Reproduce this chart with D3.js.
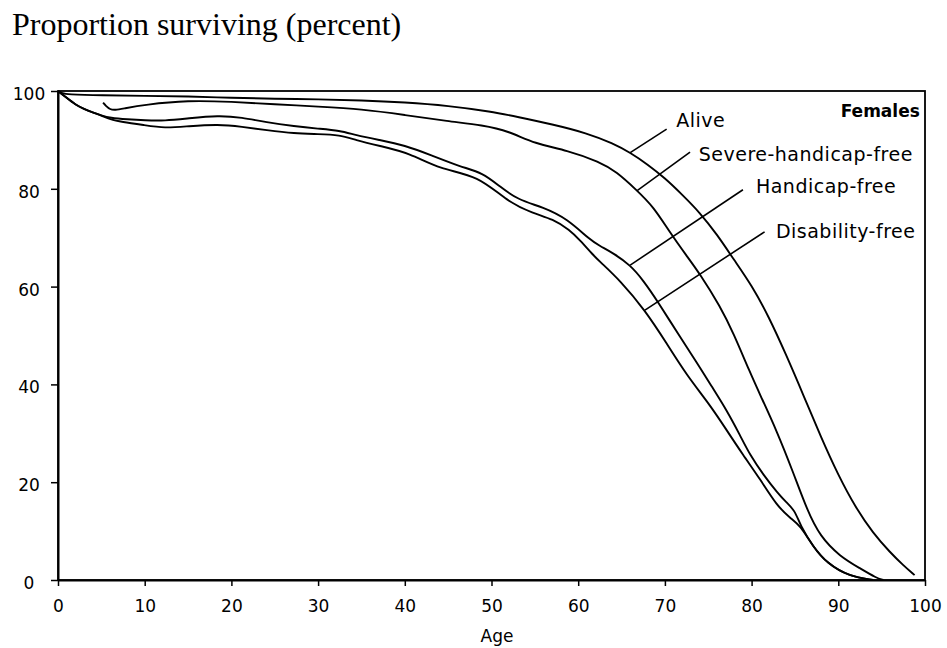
<!DOCTYPE html>
<html>
<head>
<meta charset="utf-8">
<script src="https://cdn.jsdelivr.net/npm/d3@7"></script>
<style>
  html, body { margin: 0; padding: 0; background: #fff; }
  svg { display: block; }
</style>
</head>
<body>
<svg id="chart" width="947" height="648"></svg>
<script>
// ---------- DATA ----------
const title = "Proportion surviving (percent)";
const xLabel = "Age";
const panelLabel = "Females";
const xTicks = [0, 10, 20, 30, 40, 50, 60, 70, 80, 90, 100];
const yTicks = [0, 20, 40, 60, 80, 100];

const seriesNames = ["Alive", "Severe-handicap-free", "Handicap-free", "Disability-free"];

const alive = [[0,100],[0.5,99.5],[1,99.3],[5,99.1],[10,99.0],[15,98.9],[20,98.6],[25,98.4],[30,98.3],[35,98.1],[40,97.7],[45,97.0],[50,95.8],[53,94.7],[57,93.2],[61,91.4],[64,89.3],[66,87.4],[68,85.0],[70,82.2],[72,78.8],[74,75.2],[76,70.7],[78,65.4],[80,60.3],[82,53.8],[84,46.0],[86,37.7],[88,29.2],[90,21.4],[92,14.8],[94,9.6],[96,5.6],[97.5,3.0],[98.8,1.0]];

const severeFree = [[5.2,97.6],[5.5,97.0],[6,96.2],[6.6,96.1],[7.5,96.4],[10,97.2],[15,98.1],[20,97.8],[25,97.3],[30,96.8],[35,96.3],[40,95.1],[45,93.8],[49,93.0],[52,91.8],[55,89.2],[58.7,87.9],[62.5,85.5],[64.4,83.5],[66.7,79.8],[68.7,76.3],[70.6,71.0],[72.5,66.3],[74,62.7],[76.4,55.9],[77.9,50.5],[79.8,42.5],[81,37.8],[82.9,30.5],[84.8,22.0],[86.4,14.3],[87.9,8.9],[90.2,4.8],[92.5,2.4],[94.4,0.4],[95.2,0]];

const handicapFree = [[0,100],[1,98.6],[2,97.2],[3,96.3],[4,95.6],[5,95.0],[6,94.5],[8,94.2],[10,94.0],[12.3,93.9],[15,94.4],[18.5,95.0],[21.2,94.6],[24,93.6],[27.3,92.8],[30,92.3],[32.5,91.9],[34.3,91.0],[37,90.0],[40,88.9],[43,86.9],[46.4,84.5],[49,83.3],[51,80.4],[53,77.8],[56,76.2],[58.7,73.9],[61.4,69.5],[62.5,68.3],[64.1,66.8],[66,64.4],[67.5,61.3],[69.2,56.9],[71.7,49.8],[73.5,45.0],[75.5,39.3],[77.1,34.8],[78.7,29.5],[79.8,25.6],[81.4,21.4],[83,17.8],[84,15.9],[85,14.2],[85.6,11.2],[87.1,6.8],[88.7,3.4],[91.3,0.7],[94,0]];

const disabilityFree = [[0,100],[1,98.6],[2,97.2],[3,96.3],[4,95.6],[5,95.0],[6,94.2],[7.3,93.7],[10,93.0],[12.3,92.4],[15,92.8],[18.5,93.2],[21.2,92.7],[24,92.0],[27.3,91.3],[30,91.2],[32.5,91.0],[34.3,90.0],[37,88.8],[40.6,87.3],[44,84.0],[48.5,82.7],[51.8,77.4],[54.8,75.0],[57.1,73.8],[59,71.6],[60.2,69.5],[61.7,66.5],[62.5,65.1],[64.8,61.3],[67.7,55.2],[70.2,48.4],[72.5,41.9],[75.2,35.8],[77.1,30.7],[79,25.6],[81,20.6],[82.9,15.2],[84.5,12.6],[85.6,11.2],[87.1,6.8],[88.7,3.4],[91.3,0.7],[94,0]];

// leader lines: age where each touches its curve, and leader end point
const leaderAge = [66, 66.8, 66, 67.7];
const leaderEndAge = [70.2, 72.9, 79.0, 81.5];
const leaderEndValue = [92.2, 87.5, 79.8, 71.2];
// label text positions (start of text, baseline)
const labelAge = [71.3, 73.9, 80.5, 82.8];
const labelValue = [92.6, 85.6, 79.1, 69.9];

// ---------- CHART ----------
const svg = d3.select("#chart");
const x = d3.scaleLinear().domain([0, 100]).range([58, 925]);
const y = d3.scaleLinear().domain([0, 100]).range([580, 91]);

const seriesData = [alive, severeFree, handicapFree, disabilityFree];

// title
svg.append("text")
  .attr("x", 12).attr("y", 35)
  .attr("font-family", "'Liberation Serif', 'Times New Roman', serif")
  .attr("font-size", 32)
  .attr("fill", "#000")
  .text(title);

const sansFont = "'DejaVu Sans', Verdana, sans-serif";

// frame
svg.append("rect")
  .attr("x", x(0)).attr("y", y(100))
  .attr("width", x(100) - x(0)).attr("height", y(0) - y(100))
  .attr("fill", "none").attr("stroke", "#000").attr("stroke-width", 1.8);

// y axis
const yAxis = svg.append("g")
  .attr("transform", `translate(${x(0)},0)`)
  .call(d3.axisLeft(y).tickValues(yTicks).tickSize(7).tickSizeOuter(0).tickFormat(d3.format("d")));
yAxis.select(".domain").attr("stroke", "#000").attr("stroke-width", 2);
yAxis.selectAll(".tick line").attr("stroke", "#000").attr("stroke-width", 1.5);
yAxis.selectAll(".tick text")
  .attr("x", -29).attr("dy", "0.5em")
  .attr("text-anchor", "middle")
  .attr("font-family", sansFont).attr("font-size", 17).attr("fill", "#000");

// x axis
const xAxis = svg.append("g")
  .attr("transform", `translate(0,${y(0)})`)
  .call(d3.axisBottom(x).tickValues(xTicks).tickSize(6).tickSizeOuter(0).tickFormat(d3.format("d")));
xAxis.select(".domain").attr("stroke", "#000").attr("stroke-width", 2);
xAxis.selectAll(".tick line").attr("stroke", "#000").attr("stroke-width", 1.5);
xAxis.selectAll(".tick text")
  .attr("y", 32).attr("dy", null)
  .attr("font-family", sansFont).attr("font-size", 17).attr("fill", "#000");

svg.append("text")
  .attr("x", 497).attr("y", 642)
  .attr("text-anchor", "middle")
  .attr("font-family", sansFont).attr("font-size", 17).attr("fill", "#000")
  .text(xLabel);

// curves
const line = d3.line()
  .x(d => x(d[0])).y(d => y(d[1]))
  .curve(d3.curveBasis);

svg.append("g").selectAll("path")
  .data(seriesData)
  .join("path")
  .attr("d", line)
  .attr("fill", "none")
  .attr("stroke", "#000")
  .attr("stroke-width", (d, i) => 1.9)
  .attr("stroke-linejoin", "round");

// value of series at an age (linear interpolation)
function valueAt(series, age) {
  for (let i = 1; i < series.length; i++) {
    if (series[i][0] >= age) {
      const [a0, v0] = series[i - 1], [a1, v1] = series[i];
      return v0 + (v1 - v0) * (age - a0) / (a1 - a0);
    }
  }
  return series[series.length - 1][1];
}

// leader lines
const leaders = seriesNames.map((name, i) => ({
  a0: leaderAge[i], v0: valueAt(seriesData[i], leaderAge[i]),
  a1: leaderEndAge[i], v1: leaderEndValue[i]
}));
svg.append("g").selectAll("line")
  .data(leaders)
  .join("line")
  .attr("x1", d => x(d.a0)).attr("y1", d => y(d.v0))
  .attr("x2", d => x(d.a1)).attr("y2", d => y(d.v1))
  .attr("stroke", "#000").attr("stroke-width", 1.6);

// labels
svg.append("g").selectAll("text")
  .data(seriesNames)
  .join("text")
  .attr("x", (d, i) => x(labelAge[i]))
  .attr("y", (d, i) => y(labelValue[i]))
  .attr("font-family", sansFont).attr("font-size", 19).attr("fill", "#000")
  .attr("letter-spacing", 0.5)
  .text(d => d);

svg.append("text")
  .attr("x", x(99.4)).attr("y", 117)
  .attr("text-anchor", "end")
  .attr("font-family", sansFont).attr("font-size", 17).attr("font-weight", "bold")
  .attr("fill", "#000")
  .text(panelLabel);
</script>
</body>
</html>
